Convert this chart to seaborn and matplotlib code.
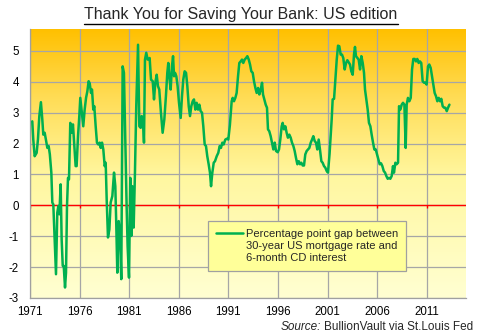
import matplotlib
matplotlib.use("Agg")
import matplotlib.pyplot as plt
import seaborn as sns
import numpy as np
import pandas as pd
from matplotlib.lines import Line2D
from matplotlib.colors import LinearSegmentedColormap

years = [1971.23, 1971.33, 1971.47, 1971.67, 1971.80, 1971.94, 1972.10, 1972.24, 1972.34, 1972.48,
         1972.60, 1972.75, 1972.88, 1973.00, 1973.15, 1973.25, 1973.35, 1973.49, 1973.62, 1973.75,
         1973.86, 1973.96, 1974.09, 1974.19, 1974.30, 1974.40, 1974.53, 1974.63, 1974.73, 1974.83,
         1974.93, 1975.06, 1975.20, 1975.33, 1975.47, 1975.60, 1975.70, 1975.84, 1975.97, 1976.07,
         1976.21, 1976.37, 1976.51, 1976.65, 1976.78, 1976.91, 1977.02, 1977.15, 1977.25, 1977.38,
         1977.48, 1977.62, 1977.75, 1977.89, 1978.02, 1978.13, 1978.26, 1978.39, 1978.53, 1978.63,
         1978.73, 1978.86, 1979.00, 1979.13, 1979.30, 1979.47, 1979.60, 1979.70, 1979.80, 1979.94,
         1980.07, 1980.20, 1980.34, 1980.47, 1980.60, 1980.74, 1980.84, 1980.98, 1981.11, 1981.21,
         1981.31, 1981.45, 1981.58, 1981.71, 1981.89, 1982.02, 1982.16, 1982.26, 1982.39, 1982.49,
         1982.59, 1982.72, 1982.86, 1983.06, 1983.20, 1983.37, 1983.50, 1983.63, 1983.77, 1983.90,
         1984.03, 1984.20, 1984.37, 1984.54, 1984.70, 1984.84, 1984.94, 1985.04, 1985.18, 1985.31,
         1985.42, 1985.52, 1985.62, 1985.75, 1985.88, 1986.02, 1986.19, 1986.32, 1986.45, 1986.59,
         1986.73, 1986.86, 1987.00, 1987.13, 1987.26, 1987.40, 1987.53, 1987.67, 1987.80, 1987.94,
         1988.07, 1988.20, 1988.34, 1988.47, 1988.61, 1988.74, 1988.87, 1989.01, 1989.14, 1989.25,
         1989.38, 1989.52, 1989.65, 1989.82, 1989.98, 1990.12, 1990.25, 1990.39, 1990.52, 1990.69,
         1990.86, 1990.99, 1991.15, 1991.33, 1991.43, 1991.56, 1991.70, 1991.83, 1991.97, 1992.10,
         1992.24, 1992.37, 1992.50, 1992.64, 1992.78, 1992.91, 1993.05, 1993.18, 1993.31, 1993.45,
         1993.58, 1993.72, 1993.85, 1993.99, 1994.12, 1994.26, 1994.39, 1994.49, 1994.62, 1994.76,
         1994.89, 1994.99, 1995.12, 1995.26, 1995.39, 1995.53, 1995.67, 1995.80, 1995.97, 1996.10,
         1996.23, 1996.37, 1996.47, 1996.60, 1996.74, 1996.87, 1997.00, 1997.14, 1997.28, 1997.41,
         1997.55, 1997.68, 1997.81, 1997.95, 1998.09, 1998.22, 1998.35, 1998.49, 1998.62, 1998.75,
         1998.89, 1999.02, 1999.16, 1999.30, 1999.43, 1999.56, 1999.70, 1999.83, 1999.96, 2000.10,
         2000.23, 2000.37, 2000.50, 2000.64, 2000.77, 2000.91, 2001.04, 2001.20, 2001.41, 2001.51,
         2001.65, 2001.78, 2001.92, 2002.05, 2002.18, 2002.32, 2002.45, 2002.58, 2002.72, 2002.86,
         2002.99, 2003.13, 2003.26, 2003.39, 2003.53, 2003.66, 2003.76, 2003.86, 2004.00, 2004.13,
         2004.27, 2004.40, 2004.54, 2004.67, 2004.77, 2004.90, 2005.04, 2005.17, 2005.31, 2005.44,
         2005.58, 2005.71, 2005.85, 2005.98, 2006.11, 2006.25, 2006.39, 2006.52, 2006.66, 2006.79,
         2006.92, 2007.06, 2007.19, 2007.32, 2007.46, 2007.59, 2007.69, 2007.83, 2007.96, 2008.10,
         2008.20, 2008.33, 2008.47, 2008.60, 2008.74, 2008.87, 2008.97, 2009.10, 2009.24, 2009.38,
         2009.51, 2009.64, 2009.78, 2009.91, 2010.04, 2010.18, 2010.31, 2010.44, 2010.58, 2010.72,
         2010.85, 2010.98, 2011.12, 2011.25, 2011.39, 2011.52, 2011.65, 2011.79, 2011.93, 2012.06,
         2012.20, 2012.33, 2012.46, 2012.60, 2012.74, 2012.87, 2013.01, 2013.14, 2013.28]

gap = [2.72, 2.13, 1.59, 1.70, 2.13, 2.89, 3.34, 2.78, 2.29, 2.35,
       2.13, 1.86, 1.92, 1.65, 1.06, 0.09, 0.03, -1.10, -2.23, -0.24,
       -0.02, -0.29, 0.68, -1.10, -1.96, -1.96, -2.66, -2.18, -0.02, 0.89,
       0.84, 2.67, 2.35, 2.62, 1.92, 1.27, 1.27, 2.24, 2.89, 3.48,
       3.05, 2.56, 3.10, 3.48, 3.69, 4.02, 3.95, 3.64, 3.75, 3.10,
       3.21, 2.56, 2.03, 1.97, 2.03, 1.86, 2.03, 1.81, 1.27, 1.38,
       0.19, -1.04, -0.78, 0.09, 0.30, 1.06, 0.62, -0.67, -2.18, -0.51,
       -0.88, -2.39, 4.50, 4.29, 2.13, -0.02, -1.32, -2.34, 0.89, -0.99,
       0.62, -0.72, 1.06, 3.21, 5.20, 2.56, 2.51, 2.89, 2.78, 2.03,
       4.72, 4.94, 4.72, 4.77, 4.07, 4.02, 3.43, 3.97, 4.23, 3.86,
       3.75, 3.00, 2.35, 2.78, 3.53, 4.29, 4.61, 4.18, 3.75, 4.50,
       4.83, 4.18, 4.29, 4.18, 3.86, 3.32, 2.83, 3.53, 4.07, 4.34,
       4.29, 3.86, 3.21, 2.89, 3.21, 3.37, 3.43, 3.10, 3.32, 3.10,
       3.26, 3.05, 3.00, 2.56, 1.97, 1.92, 1.59, 1.33, 1.06, 0.62,
       1.06, 1.38, 1.43, 1.59, 1.70, 1.92, 1.86, 2.03, 1.97, 2.13,
       2.16, 2.13, 2.60, 3.37, 3.48, 3.37, 3.48, 3.64, 4.18, 4.61,
       4.66, 4.72, 4.61, 4.72, 4.77, 4.83, 4.72, 4.56, 4.34, 4.29,
       4.02, 3.80, 3.64, 3.80, 3.59, 3.75, 3.97, 3.59, 3.43, 3.26,
       3.16, 2.46, 2.40, 2.24, 2.03, 1.81, 2.03, 1.76, 1.72, 1.81,
       2.13, 2.56, 2.67, 2.46, 2.56, 2.35, 2.19, 2.29, 2.19, 2.03,
       1.92, 1.76, 1.54, 1.33, 1.43, 1.33, 1.38, 1.29, 1.29, 1.65,
       1.76, 1.81, 1.86, 2.03, 2.13, 2.24, 2.08, 2.03, 1.81, 2.13,
       1.81, 1.43, 1.38, 1.27, 1.22, 1.11, 1.06, 1.68, 2.78, 3.43,
       3.45, 4.07, 4.72, 5.17, 5.15, 4.88, 4.88, 4.77, 4.40, 4.61,
       4.70, 4.63, 4.56, 4.34, 4.23, 4.88, 5.13, 4.83, 4.77, 4.72,
       4.40, 4.83, 4.61, 4.29, 3.75, 3.43, 3.10, 2.67, 2.56, 2.29,
       2.03, 1.81, 1.81, 1.65, 1.49, 1.33, 1.36, 1.27, 1.11, 1.06,
       0.95, 0.86, 0.89, 0.86, 0.95, 1.27, 1.06, 1.38, 1.33, 1.38,
       3.21, 3.10, 3.26, 3.32, 3.26, 1.86, 3.26, 3.48, 3.37, 3.48,
       4.40, 4.74, 4.74, 4.66, 4.74, 4.61, 4.66, 4.61, 4.02, 3.97,
       3.97, 3.91, 4.50, 4.56, 4.45, 4.18, 3.91, 3.64, 3.53, 3.37,
       3.48, 3.37, 3.45, 3.21, 3.16, 3.16, 3.05, 3.16, 3.26]

x_ticks = [1971, 1976, 1981, 1986, 1991, 1996, 2001, 2006, 2011]
y_ticks = [-3, -2, -1, 0, 1, 2, 3, 4, 5]
title_text = "Thank You for Saving Your Bank: US edition"
legend_lines = ["Percentage point gap between", "30-year US mortgage rate and", "6-month CD interest"]
source_label = "Source:"
source_text = "BullionVault via St.Louis Fed"

sns.set_theme(style="white")
plt.rcParams['font.family'] = ['Liberation Sans', 'DejaVu Sans']

W, H = 480, 336
fig = plt.figure(figsize=(W / 100, H / 100), dpi=100)
ax = fig.add_axes([30 / W, 38 / H, 435.5 / W, 268.7 / H])

# gradient background
cmap = LinearSegmentedColormap.from_list(
    "bg", [(0.0, "#FFFFD2"), (0.45, "#FFF7A0"), (0.75, "#FFDC55"), (1.0, "#FFC000")])
grad = np.linspace(0, 1, 256).reshape(-1, 1)
ax.imshow(grad, aspect='auto', cmap=cmap, extent=[0, 1, 0, 1],
          transform=ax.transAxes, origin='lower', zorder=0, interpolation='bilinear')

df = pd.DataFrame({"year": years, "gap": gap})
green = "#00B050"
sns.lineplot(data=df, x="year", y="gap", sort=False, estimator=None,
             color=green, lw=1.8, ax=ax, legend=False, zorder=3)

ax.axhline(0, color='red', lw=1.0, zorder=2)
ax.vlines(x_ticks, -0.1, 0, color='red', lw=1.0, zorder=2)

ax.set_xlim(1971, 2014.9)
ax.set_ylim(-3, 5.7)
ax.set_xticks(x_ticks)
ax.set_yticks(y_ticks)
ax.set_xticklabels([str(t) for t in x_ticks])
ax.set_yticklabels([str(t) for t in y_ticks])
ax.set_xlabel("")
ax.set_ylabel("")
ax.grid(True, color='#A6A6A6', lw=0.9, zorder=1)
ax.set_axisbelow(True)
for s in ['top', 'right']:
    ax.spines[s].set_visible(False)
for s in ['left', 'bottom']:
    ax.spines[s].set_color('#A0A0A0')
    ax.spines[s].set_linewidth(0.9)
ax.tick_params(axis='both', which='major', length=3, color='#A0A0A0',
               labelsize=8.3, labelcolor='black', width=0.9)
ax.tick_params(axis='y', pad=5)
ax.tick_params(axis='x', pad=3)

handles = [Line2D([], [], color=green, lw=1.8),
           Line2D([], [], color='none'),
           Line2D([], [], color='none')]
leg = ax.legend(handles, legend_lines, loc='upper left', bbox_to_anchor=(0.409, 0.2866),
                borderaxespad=0, fontsize=8, handlelength=2.4, handletextpad=0.3,
                labelspacing=0.2, frameon=True, fancybox=False, facecolor='#FFFF99',
                edgecolor='#A0A0A0', framealpha=1, borderpad=0.7)
leg.get_frame().set_linewidth(0.9)
leg.set_zorder(5)

t = fig.text(241 / W, 1 - 15 / H, title_text, ha='center', va='center', fontsize=11.5)
s2 = fig.text(473 / W, 1 - 327 / H, source_text, ha='right', va='center', fontsize=8.5)
fig.canvas.draw()
r = fig.canvas.get_renderer()
bb = t.get_window_extent(r)
fig.add_artist(Line2D([bb.x0 / W, bb.x1 / W], [(bb.y0 - 1) / H, (bb.y0 - 1) / H],
                      color='black', lw=1.0, transform=fig.transFigure))
bb2 = s2.get_window_extent(r)
fig.text((bb2.x0 - 3) / W, 1 - 327 / H, source_label, ha='right', va='center',
         fontsize=8.5, style='italic')

fig.savefig("out.png", dpi=100)
